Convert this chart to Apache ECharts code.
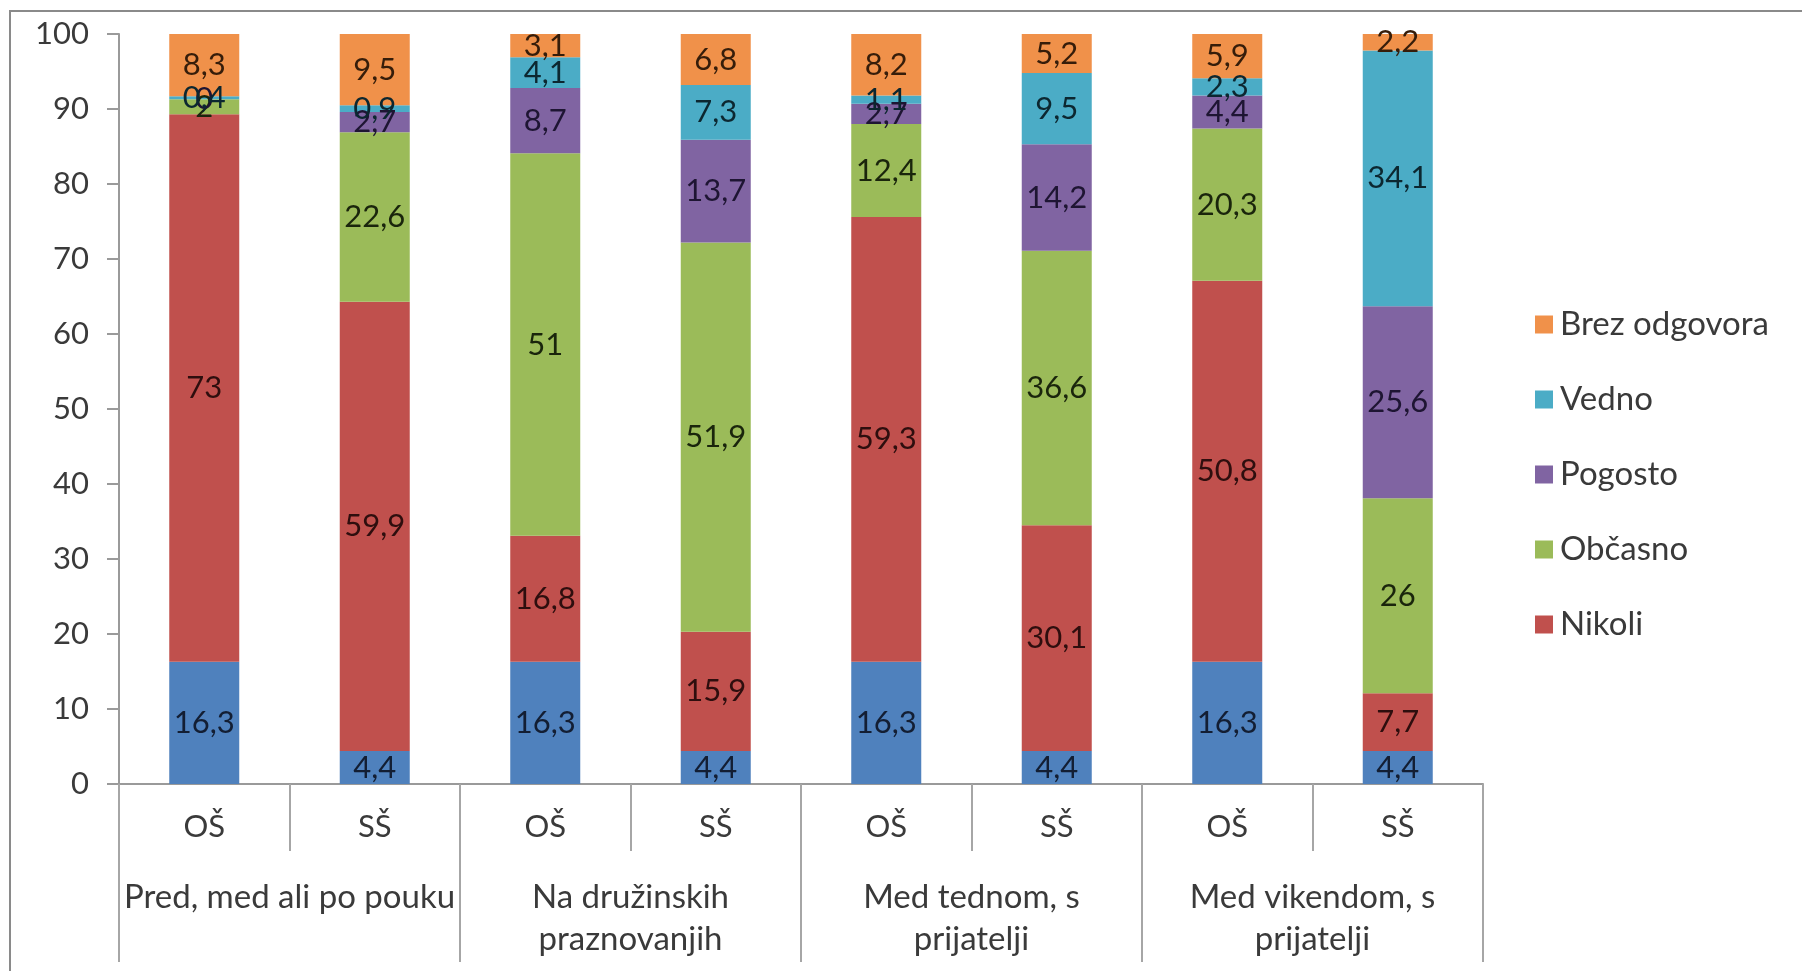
<!DOCTYPE html>
<html>
<head>
<meta charset="utf-8">
<script src="https://cdn.jsdelivr.net/npm/echarts@6/dist/echarts.min.js"></script>
<style>
html,body{margin:0;padding:0;background:#fff;}
#chart{width:1802px;height:971px;}
</style>
</head>
<body>
<div id="chart"></div>
<script>
const categories = ['OŠ', 'SŠ', 'OŠ', 'SŠ', 'OŠ', 'SŠ', 'OŠ', 'SŠ'];
const groups = ['Pred, med ali po pouku', 'Na družinskih\npraznovanjih', 'Med tednom, s\nprijatelji', 'Med vikendom, s\nprijatelji'];
const yTicks = [0, 10, 20, 30, 40, 50, 60, 70, 80, 90, 100];

const baseValues = [16.3, 4.4, 16.3, 4.4, 16.3, 4.4, 16.3, 4.4];
const nikoli = [73, 59.9, 16.8, 15.9, 59.3, 30.1, 50.8, 7.7];
const obcasno = [2, 22.6, 51, 51.9, 12.4, 36.6, 20.3, 26];
const pogosto = [0, 2.7, 8.7, 13.7, 2.7, 14.2, 4.4, 25.6];
const vedno = [0.4, 0.9, 4.1, 7.3, 1.1, 9.5, 2.3, 34.1];
const brezOdgovora = [8.3, 9.5, 3.1, 6.8, 8.2, 5.2, 5.9, 2.2];

const seriesNames = ['n', 'Nikoli', 'Občasno', 'Pogosto', 'Vedno', 'Brez odgovora'];
const legendOrder = ['Brez odgovora', 'Vedno', 'Pogosto', 'Občasno', 'Nikoli'];

const FONT = 'Lato, "Noto Sans", sans-serif';
const colors = ['#4F81BD', '#C0504D', '#9BBB59', '#8064A2', '#4BACC6', '#F0914A'];
const labelColors = ['#131e33', '#2e0e0e', '#1a250c', '#1e1533', '#0c2730', '#361d0a'];
const values = [baseValues, nikoli, obcasno, pogosto, vedno, brezOdgovora];

const chart = echarts.init(document.getElementById('chart'));
const series = values.map((arr, i) => ({
  name: seriesNames[i],
  type: 'bar',
  stack: 'total',
  barWidth: 70,
  data: arr,
  itemStyle: { color: colors[i] },
  label: {
    show: true,
    position: 'inside',
    fontFamily: FONT,
    fontSize: 31,
    color: labelColors[i],
    formatter: p => String(p.value).replace('.', ',')
  }
}));

chart.setOption({
  animation: false,
  grid: { left: 119, right: 319, top: 34, bottom: 187 },
  legend: {
    data: legendOrder,
    orient: 'vertical',
    left: 1530,
    top: 303,
    itemWidth: 18,
    itemHeight: 18,
    itemGap: 42,
    icon: 'rect',
    selectedMode: false,
    textStyle: { fontFamily: FONT, fontSize: 33, color: '#3a3a3a', padding: [0, 0, 0, 2] }
  },
  xAxis: [
    {
      type: 'category',
      data: categories,
      position: 'bottom',
      axisLine: { show: true, lineStyle: { color: '#9a9a9a', width: 2 } },
      axisTick: { show: true, interval: 0, length: 67, lineStyle: { color: '#a6a6a6', width: 2 } },
      axisLabel: { interval: 0, margin: 27, fontFamily: FONT, fontSize: 31, color: '#3a3a3a' }
    },
    {
      type: 'category',
      data: groups,
      position: 'bottom',
      axisLine: { show: false },
      axisTick: { show: true, interval: 0, length: 178, lineStyle: { color: '#a6a6a6', width: 2 } },
      axisLabel: { interval: 0, margin: 92, fontFamily: FONT, fontSize: 33, lineHeight: 42, color: '#3a3a3a' }
    }
  ],
  yAxis: {
    type: 'value',
    min: yTicks[0],
    max: yTicks[yTicks.length - 1],
    interval: 10,
    axisLine: { show: true, lineStyle: { color: '#9a9a9a', width: 2 } },
    axisTick: { show: true, length: 12, lineStyle: { color: '#9a9a9a', width: 2 } },
    splitLine: { show: false },
    axisLabel: { margin: 30, fontFamily: FONT, fontSize: 31, color: '#3a3a3a' }
  },
  graphic: [{
    type: 'rect',
    shape: { x: 10, y: 11, width: 2000, height: 2000 },
    style: { fill: 'none', stroke: '#8a8a8a', lineWidth: 2 },
    silent: true
  }],
  series: series
});
</script>
</body>
</html>
